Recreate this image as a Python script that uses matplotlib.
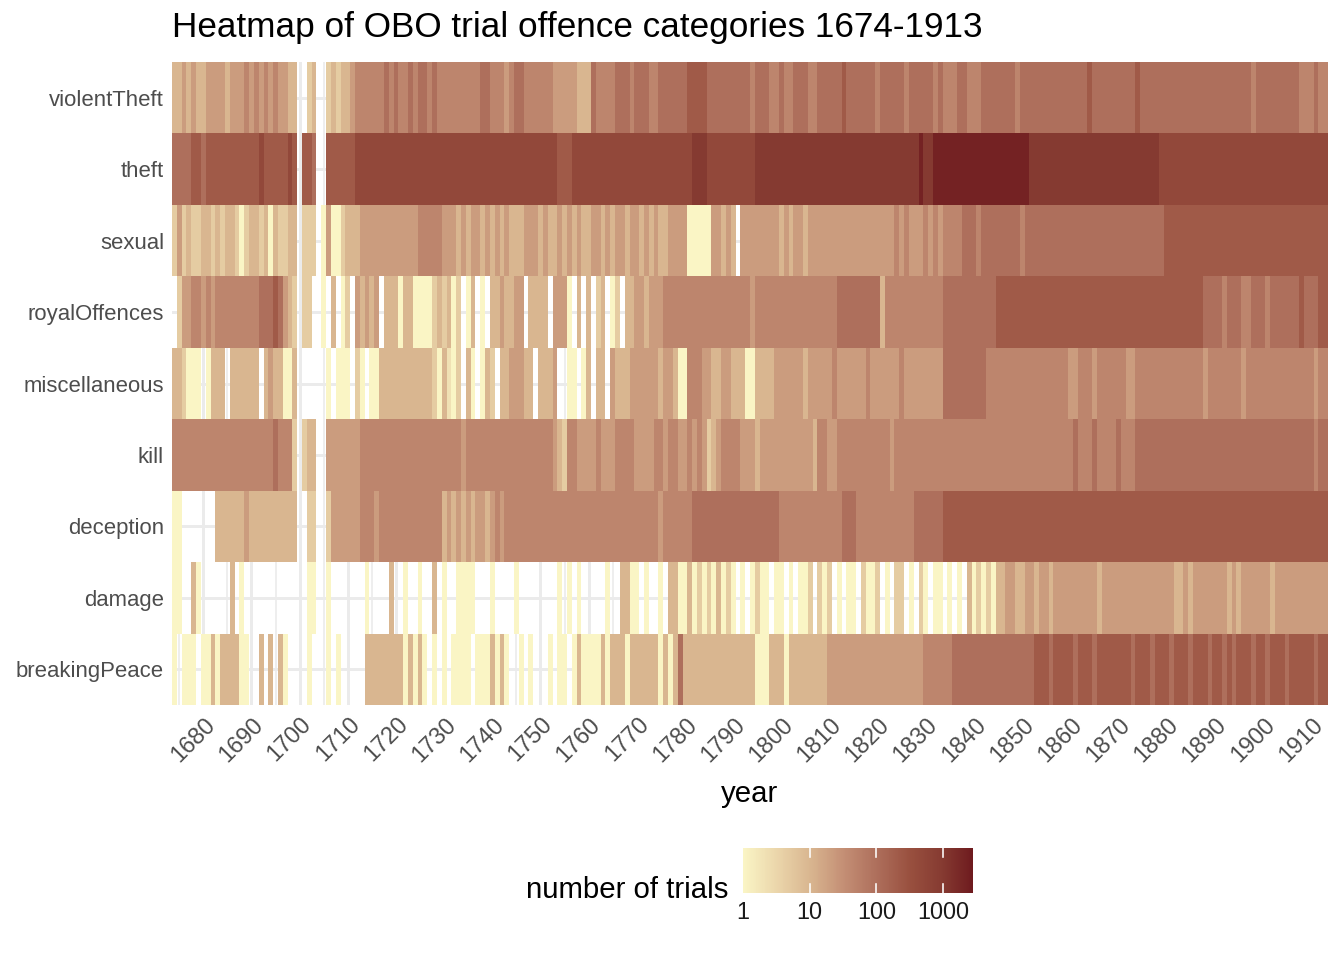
import numpy as np
import matplotlib
matplotlib.use("Agg")
import matplotlib.pyplot as plt
from matplotlib.colors import LinearSegmentedColormap, LogNorm

plt.rcParams['font.family'] = ['Liberation Sans', 'DejaVu Sans']

years = list(range(1674, 1914))
categories = ["breakingPeace", "damage", "deception", "kill", "miscellaneous",
              "royalOffences", "sexual", "theft", "violentTheft"]

# per-year intensity level (count = 10**(level/3)); '.' = no trials; 'A' = 10
# chunks: 1674-79, then decades 1680s..1900s, then 1910-13
violentTheft = ["334343", "3444434445", "4545454433", "..23..2323", "3455555565", "6556566565",
                "5555555566", "5554566555", "5554444433", "3655556665", "6665566666", "6777766666",
                "6666566655", "6556665566", "6667666666", "5666665666", "6656555665", "5566666665",
                "6666666666", "6666766666", "6666766666", "6666666666", "6666666656", "6666666655", "5655"]
theft = ["666677", "6777777777", "7787777787", ".776..7777", "7788888888", "8888888888",
         "8888888888", "8888888888", "8888777888", "8888888888", "8888888888", "8899988888",
         "8888899999", "9999999999", "9999999999", "999999999A", "99AAAAAAAA", "AAAAAAAAAA",
         "AA99999999", "9999999999", "9999999998", "8888888888", "8888888888", "8888888888", "8888"]
sexual = ["242322", "3323233202", "3323032233", ".222.04002", "3334444444", "4444455555",
          "4443434434", "3434333444", "3433434343", "3443434434", "4343433444", "4000004434",
          "3.44444444", "3434434444", "4444444444", "4444545444", "5454555566", "6566666666",
          "5666666666", "6666666666", "6666666666", "7777777777", "7777777777", "7777777777", "7777"]
royalOffences = [".24455", "4545555555", "5566676432", ".22..0.3.0", "2.43434.33", "3033000023",
                 "2302.03.0.", "3343344.33", "33.4440.3.", "3.23.02.33", "4434445555", "5555555555",
                 "5555455555", "5555555555", "5566666666", "6355555555", "5555666666", "6666677777",
                 "7777777777", "7777777777", "7777777777", "7777777766", "6656665566", "6566666676", "6677"]
miscellaneous = ["332000", ".0333.3333", "33.3433003", "......0.00", "0.20.00333", "3333333320",
                 "3102.30.03", "2.3344433.", "3334..00.0", "3.33.43334", "4444434430", "0555443344",
                 "3330033334", "4444434444", "4544444454", "4444454444", "4444666666", "6665555555",
                 "5555555555", "4455545555", "5544555555", "5555555545", "5555554555", "5555555555", "5455"]
kill = ["555555", "5555555555", "5555565552", ".233..4444", "4445555555", "5555555555",
        "5555455555", "5555555555", "5554325544", "4454445555", "4444554554", "4545423455",
        "5544434444", "4444444355", "4455555555", "5554555555", "5555555555", "5555555555",
        "5555555555", "5655565555", "6555666666", "6666666666", "6666666666", "6666666666", "6566"]
deception = ["00....", "...3333334", "3333333333", "..22..2444", "4445554555", "5555555555",
             "3434343443", "4545555555", "5555555555", "5555555555", "5555545555", "5566666666",
             "6666666666", "5555555555", "5556665555", "5555555566", "6666777777", "7777777777",
             "7777777777", "7777777777", "7777777777", "7777777777", "7777777777", "7777777777", "7777"]
damage = ["00..30", "......3.0.", "..........", "..00..0...", "....0....3", "..0..0..3.",
          "0..0000...", "0....0....", "....0.0.0.", "....0..330", "0.0..0.330", "0302020302",
          "0.0.0200.0", "0.0.002.20", "2.0.00.200", "2.0.22.0.2", "0.00.0.0.3", "0202033443",
          "3443443444", "4444443444", "4444444444", "4433434444", "4443434444", "4434444444", "4444"]
breakingPeace = ["0.000.", "0030333300", "..3.3.30..", "..0...0.0.", "....333333", "3303030.0.",
                 "0.0000.000", "3030..0.0.", "..0.00.030", "0003033303", "3333303036", "3333333333",
                 "3333300033", "3033333333", "4444444444", "4444444444", "5555556666", "6666666666",
                 "6667776777", "7677767777", "7776777677", "7677767776", "7767677767", "7677767777", "7677"]

rows = {"violentTheft": violentTheft, "theft": theft, "sexual": sexual,
        "royalOffences": royalOffences, "miscellaneous": miscellaneous, "kill": kill,
        "deception": deception, "damage": damage, "breakingPeace": breakingPeace}

def decode(chunks):
    s = "".join(chunks)
    out = []
    for ch in s:
        if ch == ".":
            out.append(np.nan)
        else:
            lvl = 10 if ch == "A" else int(ch)
            out.append(10 ** (lvl / 3.0))
    return np.array(out)

Z = np.vstack([decode(rows[c]) for c in categories])
Z = np.ma.masked_invalid(Z)

cmap = LinearSegmentedColormap.from_list(
    "obo", [(0.0, "#FAF5C5"), (0.145, "#EBD6AB"), (0.29, "#D9B690"), (0.435, "#C48F75"),
            (0.58, "#AE6F5C"), (0.725, "#99503F"), (0.87, "#853A31"), (1.0, "#6E1A1E")])
norm = LogNorm(vmin=1, vmax=2800)

fig = plt.figure(figsize=(7, 5), dpi=192)
ax = fig.add_axes([172/1344, 1-705/960, (1328-172)/1344, (705-62)/960])

xe = np.arange(years[0] - 0.5, years[-1] + 1.5, 1)
ye = np.arange(len(categories) + 1) - 0.5
ax.set_axisbelow(True)
mesh = ax.pcolormesh(xe, ye, Z, cmap=cmap, norm=norm, zorder=2)

ax.set_xlim(xe[0], xe[-1])
ax.set_ylim(ye[0], ye[-1])
xt = list(range(1680, 1911, 10))
ax.set_xticks(xt)
ax.set_xticklabels([str(v) for v in xt], rotation=45, ha="right", rotation_mode="anchor",
                   fontsize=8.8, color="#4D4D4D")
ax.set_xticks(list(range(1675, 1914, 10)), minor=True)
ax.set_yticks(range(len(categories)))
ax.set_yticklabels(categories, fontsize=8.3, color="#4D4D4D")
ax.tick_params(length=0, which="both", pad=3)
ax.grid(True, which="major", color="#EBEBEB", lw=1.1)
ax.grid(True, which="minor", axis="x", color="#EBEBEB", lw=0.6)
for s in ax.spines.values():
    s.set_visible(False)
ax.set_xlabel("year", fontsize=11, labelpad=5)
fig.text(172/1344, 1-28/960, "Heatmap of OBO trial offence categories 1674-1913",
         fontsize=13.2, va="center", ha="left")

cax = fig.add_axes([743/1344, 1-893/960, (973-743)/1344, 45/960])
cb = fig.colorbar(mesh, cax=cax, orientation="horizontal", ticks=[1, 10, 100, 1000])
cb.ax.set_xticklabels(["1", "10", "100", "1000"], fontsize=8.8, color="#1A1A1A")
cb.outline.set_visible(False)
cb.ax.tick_params(length=0, pad=3)
for v in [10, 100, 1000]:
    cax.axvline(v, ymin=0, ymax=0.2, color="white", lw=0.6)
    cax.axvline(v, ymin=0.8, ymax=1, color="white", lw=0.6)
fig.text(728/1344, 1-890/960, "number of trials", fontsize=11, ha="right", va="center")

fig.savefig("out.png", dpi=192)
